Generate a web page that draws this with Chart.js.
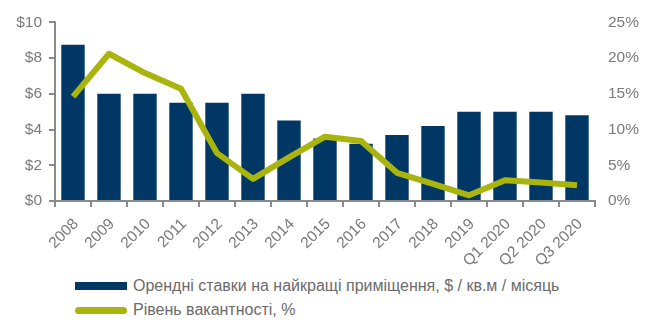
<!DOCTYPE html>
<html>
<head>
<meta charset="utf-8">
<script src="https://cdn.jsdelivr.net/npm/chart.js@4.4.1/dist/chart.umd.min.js"></script>
<style>
  body { margin: 0; background: #fff; }
  #wrap { position: relative; width: 666px; height: 331px; }
  #legend {
    position: absolute; left: 75px; top: 274px;
    font-family: "Liberation Sans", Arial, sans-serif; font-size: 16px; color: #6b6b6b;
  }
  .legend-row { display: flex; align-items: center; height: 24px; }
  .legend-mark { width: 52px; margin-right: 6px; }
</style>
</head>
<body>
<div id="wrap">
  <canvas id="rent-chart" width="666" height="270"></canvas>
  <div id="legend"></div>
</div>
<script>
  // Ряди даних
  const periods = ["2008", "2009", "2010", "2011", "2012", "2013", "2014", "2015",
    "2016", "2017", "2018", "2019", "Q1 2020", "Q2 2020", "Q3 2020"];
  const rentRates = [8.75, 6, 6, 5.5, 5.5, 6, 4.5, 3.5, 3.2, 3.7, 4.2, 5, 5, 5, 4.8];
  const vacancyRates = [14.6, 20.6, 17.9, 15.7, 6.7, 3.1, 6.1, 9.0, 8.4, 3.95, 2.4, 0.8, 2.9, 2.6, 2.2];
  const rentTicks = [0, 2, 4, 6, 8, 10];
  const vacancyTicks = [0, 5, 10, 15, 20, 25];

  const navy = "#003764";
  const olive = "#a9b40d";
  const axisGrey = "#8a8a8a";
  const labelGrey = "#7a7a7a";
  const tickFont = { family: "'Liberation Sans', Arial, sans-serif", size: 15.5 };

  const data = {
    labels: periods,
    datasets: [
      {
        type: "line",
        label: "Рівень вакантності, %",
        data: vacancyRates,
        yAxisID: "yVacancy",
        borderColor: olive,
        backgroundColor: olive,
        borderWidth: 6,
        borderJoinStyle: "round",
        pointRadius: 0,
        tension: 0,
        order: 0,
      },
      {
        type: "bar",
        label: "Орендні ставки на найкращі приміщення, $ / кв.м / місяць",
        data: rentRates,
        yAxisID: "yRent",
        backgroundColor: navy,
        categoryPercentage: 1,
        barPercentage: 0.65,
        order: 1,
      },
    ],
  };

  const rentChart = new Chart(document.getElementById("rent-chart"), {
    data: data,
    options: {
      responsive: false,
      animation: false,
      layout: { padding: { top: 13, left: 0, right: 0, bottom: 0 } },
      plugins: { legend: { display: false }, tooltip: { enabled: false } },
      scales: {
        x: {
          offset: true,
          grid: { offset: true, drawOnChartArea: false, color: axisGrey, lineWidth: 2, tickLength: 6 },
          border: { color: axisGrey, width: 2 },
          ticks: {
            color: labelGrey, font: tickFont, minRotation: 45, maxRotation: 45,
            padding: 8, labelOffset: 3,
          },
          afterFit: (scale) => { scale.height = 69; },
        },
        yRent: {
          position: "left",
          min: 0,
          max: 10,
          afterBuildTicks: (scale) => { scale.ticks = rentTicks.map((v) => ({ value: v })); },
          grid: { drawOnChartArea: false, color: axisGrey, lineWidth: 2, tickLength: 6 },
          border: { color: axisGrey, width: 2 },
          ticks: { color: labelGrey, font: tickFont, padding: 7, callback: (v) => "$" + v },
          afterFit: (scale) => { scale.width = 55; },
        },
        yVacancy: {
          position: "right",
          min: 0,
          max: 25,
          afterBuildTicks: (scale) => { scale.ticks = vacancyTicks.map((v) => ({ value: v })); },
          grid: { display: false, drawTicks: false },
          border: { display: false },
          ticks: { color: labelGrey, font: tickFont, padding: 13, callback: (v) => v + "%" },
          afterFit: (scale) => { scale.width = 71; },
        },
      },
    },
  });

  // Легенда у два рядки, з наборів даних графіка (лінія під стовпчиками)
  const legend = document.getElementById("legend");
  [rentChart.data.datasets[1], rentChart.data.datasets[0]].forEach((ds) => {
    const row = document.createElement("div");
    row.className = "legend-row";
    const mark = document.createElement("span");
    mark.className = "legend-mark";
    if (ds.type === "bar") {
      mark.style.height = "8px";
      mark.style.background = ds.backgroundColor;
    } else {
      mark.style.height = "7px";
      mark.style.borderRadius = "4px";
      mark.style.background = ds.borderColor;
    }
    const text = document.createElement("span");
    text.textContent = ds.label;
    row.appendChild(mark);
    row.appendChild(text);
    legend.appendChild(row);
  });
</script>
</body>
</html>
